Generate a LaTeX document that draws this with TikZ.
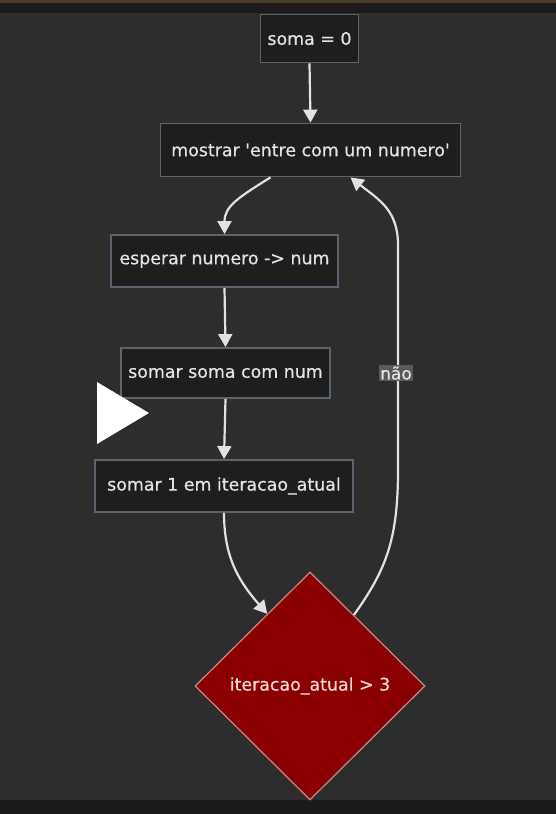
\documentclass[tikz,border=0pt]{standalone}
\usepackage{fontspec}
\setmainfont{DejaVu Sans}
\newfontfamily\diagfont{DejaVu Sans}[FakeBold=0.6]
\usetikzlibrary{shapes.geometric,arrows.meta,calc}
\definecolor{bg}{HTML}{2D2D2D}
\definecolor{bandc}{HTML}{1B1B1B}
\definecolor{topline}{HTML}{4A3E2A}
\definecolor{boxfill}{HTML}{1E1E1E}
\definecolor{boxborder}{HTML}{5A646E}
\definecolor{txt}{HTML}{E4E4E4}
\definecolor{arrowc}{HTML}{E2E2E2}
\definecolor{decfill}{HTML}{8A0000}
\definecolor{decborder}{HTML}{C48A8A}
\definecolor{dectxt}{HTML}{F2D6D6}
\definecolor{lblfill}{HTML}{5A5A5A}
\tikzset{
  procbox/.style={draw=boxborder, line width=1.8pt, fill=boxfill, text=txt,
    inner sep=0pt, font=\diagfont\fontsize{17.4}{21}\selectfont},
  decbox/.style={shape=diamond, draw=decborder, line width=1.2pt, fill=decfill,
    text=dectxt, inner sep=0pt, aspect=1, font=\diagfont\fontsize{17.4}{21}\selectfont},
  flow/.style={draw=arrowc, line width=2.2pt, -{Triangle[length=13pt,width=14pt]}},
  lbl/.style={fill=lblfill, text=txt, inner sep=1.5pt, font=\diagfont\fontsize{17}{20}\selectfont}
}
\begin{document}
\begin{tikzpicture}[x=1pt,y=1pt]
\useasboundingbox (0,0) rectangle (556,-814);
\fill[bg] (0,0) rectangle (556,-814);
\fill[bandc] (0,0) rectangle (556,-13);
\fill[topline] (0,0) rectangle (556,-2.5);
\fill[bandc] (0,-800) rectangle (556,-814);

\node[procbox, minimum width=98pt, minimum height=48pt] (soma) at (309.5,-38.5) {soma = 0};
\node[procbox, minimum width=300pt, minimum height=53pt] (mostrar) at (310.5,-150) {mostrar \textquotesingle entre com um numero\textquotesingle};
\node[procbox, minimum width=227pt, minimum height=52pt] (esperar) at (224.5,-261) {esperar numero -> num};
\node[procbox, minimum width=209pt, minimum height=50pt] (somar) at (225.5,-373) {somar soma com num};
\node[procbox, minimum width=258pt, minimum height=52pt] (somaum) at (224,-486) {somar 1 em iteracao\_atual};
\node[decbox, minimum width=230pt, minimum height=228pt] (dec) at (310,-686) {iteracao\_atual > 3};

\coordinate (decin) at ($(dec.north)!0.37!(dec.west)$);
\coordinate (decout) at ($(dec.north)!0.38!(dec.east)$);
\coordinate (loopa) at (398,-470);
\coordinate (loopb) at (398,-245);

\draw[flow] (soma.south) -- (mostrar.north);
\draw[flow] ([xshift=-40pt]mostrar.south) .. controls +(-32,-20) and +(0,28) .. (esperar.north);
\draw[flow] (esperar.south) -- (somar.north);
\draw[flow] (somar.south) -- (somaum.north);
\draw[flow] (somaum.south) .. controls +(0,-45) and +(-28,32) .. (decin);
\draw[flow] (decout) .. controls +(32,45) and +(0,-70) .. (loopa) -- (loopb)
  .. controls +(0,35) and +(28,-22) .. ([xshift=40pt]mostrar.south);

\node[lbl] (nao) at (396,-373) {não};

\fill[white] (97,-382) -- (97,-444) -- (149,-413) -- cycle;
\end{tikzpicture}
\end{document}
